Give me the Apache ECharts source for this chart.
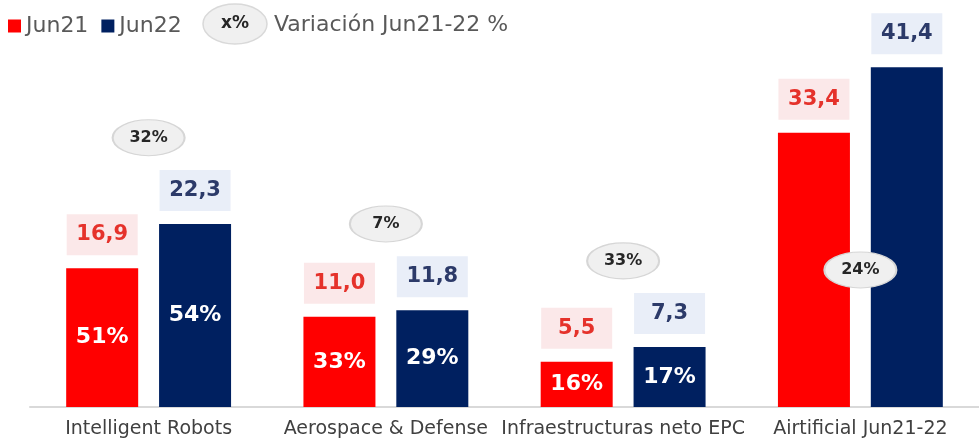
<!DOCTYPE html>
<html>
<head>
<meta charset="utf-8">
<script src="https://cdn.jsdelivr.net/npm/echarts@6/dist/echarts.min.js"></script>
<style>
  html, body { margin: 0; padding: 0; background: #fff; }
  #chart { width: 979px; height: 440px; }
</style>
</head>
<body>
<div id="chart"></div>
<script>
// data
const categories = ['Intelligent Robots', 'Aerospace & Defense', 'Infraestructuras neto EPC', 'Airtificial Jun21-22'];
const jun21 = [16.9, 11.0, 5.5, 33.4];
const jun22 = [22.3, 11.8, 7.3, 41.4];
const share21 = [51, 33, 16, null];   // % shown inside the red bars
const share22 = [54, 29, 17, null];   // % shown inside the navy bars
const variation = [32, 7, 33, 24];    // bubbles

const RED = '#ff0000', NAVY = '#002060';
const FONT = 'DejaVu Sans';
const yMax = 48;

const fmt = v => v.toFixed(1).replace('.', ',');

// bubble sits above the pair, or inside the red bar when there's no room
const bubbles = variation.map((v, i) => {
    const hi = Math.max(jun21[i], jun22[i]);
    let y = hi + 10.5;
    if (y > yMax - 6) y = Math.min(jun21[i], jun22[i]) / 2;
    return [i, y, v];
});

const ellipse = 'path://M50,0A50,50,0,1,1,50,100A50,50,0,1,1,50,0Z';

const chart = echarts.init(document.getElementById('chart'));

const valueLabel = (txt, bg) => ({
    show: true,
    position: 'top',
    distance: 13,
    formatter: p => fmt(p.value),
    color: txt,
    backgroundColor: bg,
    fontFamily: FONT,
    fontWeight: 'bold',
    fontSize: 21,
    lineHeight: 21,
    width: 71,
    align: 'center',
    padding: [10, 0]
});

const shareLabel = {
    show: true,
    position: 'inside',
    color: '#fff',
    fontFamily: FONT,
    fontWeight: 'bold',
    fontSize: 22
};

chart.setOption({
    animation: false,
    legend: {
        data: ['Jun21', 'Jun22'],
        left: 8,
        top: 15,
        padding: 0,
        icon: 'rect',
        itemWidth: 13,
        itemHeight: 13,
        itemGap: 13,
        textStyle: { fontFamily: FONT, fontSize: 22, color: '#595959' }
    },
    graphic: [
        {
            type: 'ellipse',
            shape: { cx: 235, cy: 24, rx: 32, ry: 20 },
            style: { fill: '#f0f0f0', stroke: '#d9d9d9', lineWidth: 1.5 }
        },
        {
            type: 'text',
            x: 235, y: 24,
            style: { text: 'x%', fontFamily: FONT, fontWeight: 'bold', fontSize: 17, fill: '#262626', align: 'center', verticalAlign: 'middle' }
        },
        {
            type: 'text',
            x: 274, y: 25,
            style: { text: 'Variación Jun21-22 %', fontFamily: FONT, fontSize: 22, fill: '#595959', verticalAlign: 'middle' }
        }
    ],
    grid: { left: 30, right: -6, top: 13, bottom: 33 },
    xAxis: [
        {
            type: 'category',
            data: categories,
            axisLine: { lineStyle: { color: '#d9d9d9', width: 2 } },
            axisTick: { show: false },
            axisLabel: { interval: 0, fontFamily: FONT, fontSize: 19, color: '#404040', margin: 13 }
        },
        {
            type: 'category',
            data: categories,
            show: false
        }
    ],
    yAxis: {
        type: 'value',
        min: 0,
        max: yMax,
        show: false,
        splitLine: { show: false }
    },
    series: [
        {
            name: 'Jun21', type: 'bar', data: jun21,
            barWidth: 72, barGap: '29%',
            itemStyle: { color: RED },
            label: valueLabel('#e5322b', '#fbe8e9')
        },
        {
            name: 'Jun22', type: 'bar', data: jun22,
            barWidth: 72, barGap: '29%',
            itemStyle: { color: NAVY },
            label: valueLabel('#2c3a69', '#e9eef8')
        },
        {
            name: 'share21', type: 'bar', xAxisIndex: 1,
            data: jun21.map((v, i) => ({ value: v, label: { formatter: share21[i] == null ? '' : share21[i] + '%' } })),
            barWidth: 72, barGap: '29%',
            itemStyle: { color: 'transparent' },
            label: shareLabel, silent: true
        },
        {
            name: 'share22', type: 'bar', xAxisIndex: 1,
            data: jun22.map((v, i) => ({ value: v, label: { formatter: share22[i] == null ? '' : share22[i] + '%' } })),
            barWidth: 72, barGap: '29%',
            itemStyle: { color: 'transparent' },
            label: shareLabel, silent: true
        },
        {
            name: 'Variación', type: 'scatter',
            data: bubbles,
            symbol: ellipse,
            symbolSize: [72, 36],
            z: 5,
            itemStyle: { color: '#f0f0f0', opacity: 1, borderColor: '#d6d6d6', borderWidth: 1.5 },
            label: {
                show: true,
                position: 'inside',
                formatter: p => p.value[2] + '%',
                fontFamily: FONT,
                fontWeight: 'bold',
                fontSize: 16,
                color: '#262626'
            }
        }
    ]
});
</script>
</body>
</html>
